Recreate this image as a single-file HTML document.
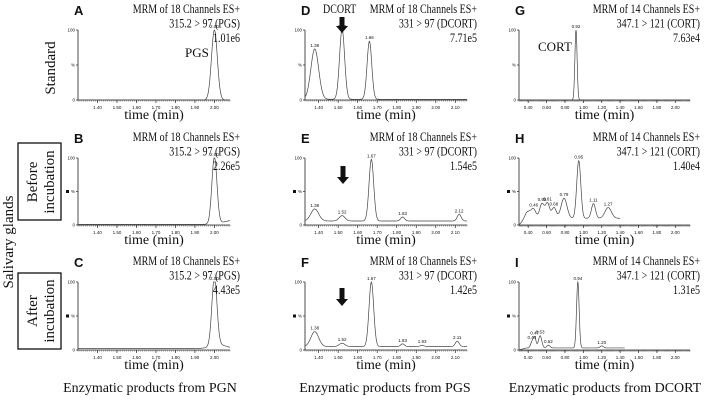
<!DOCTYPE html>
<html><head><meta charset="utf-8"><style>
html,body{margin:0;padding:0;background:#fff;width:708px;height:400px;overflow:hidden}
svg{display:block}
.ser{font-family:"Liberation Serif",serif;fill:#111}
.sans{font-family:"Liberation Sans",sans-serif;fill:#111}
</style></head><body>
<svg id="fig" width="708" height="400" viewBox="0 0 708 400">
  <g class="ser" font-size="15">
    <text transform="translate(13,242) rotate(-90)" text-anchor="middle">Salivary glands</text>
    <text transform="translate(55,68) rotate(-90)" text-anchor="middle">Standard</text>
  </g>
  <rect x="18" y="143" width="43" height="77" fill="none" stroke="#111" stroke-width="1.3"/>
  <text class="ser" font-size="15" transform="translate(40,182) rotate(-90)" text-anchor="middle"><tspan x="0" dy="-3">Before</tspan><tspan x="0" dy="17">incubation</tspan></text>
  <rect x="18" y="273" width="43" height="76" fill="none" stroke="#111" stroke-width="1.3"/>
  <text class="ser" font-size="15" transform="translate(40,311) rotate(-90)" text-anchor="middle"><tspan x="0" dy="-3">After</tspan><tspan x="0" dy="17">incubation</tspan></text>
  <g class="ser" font-size="14" text-anchor="middle">
    <text x="150" y="392">Enzymatic products from PGN</text>
    <text x="385" y="392">Enzymatic products from PGS</text>
    <text x="605" y="392">Enzymatic products from DCORT</text>
  </g>
  <g id="panels"></g>
</svg>
<script>
const colDomains = [[1.30, 2.08], [1.33, 2.16], [0.30, 2.16]];
const colTicks = [[1.40,1.50,1.60,1.70,1.80,1.90,2.00,2.10],[1.40,1.50,1.60,1.70,1.80,1.90,2.00,2.10],[0.40,0.60,0.80,1.00,1.20,1.40,1.60,1.80,2.00]];
const panelLetters = ["A","B","C","D","E","F","G","H","I"];
const channels = ["MRM of 18 Channels ES+","MRM of 18 Channels ES+","MRM of 18 Channels ES+","MRM of 18 Channels ES+","MRM of 18 Channels ES+","MRM of 18 Channels ES+","MRM of 14 Channels ES+","MRM of 14 Channels ES+","MRM of 14 Channels ES+"];
const transitions = ["315.2 > 97 (PGS)","315.2 > 97 (PGS)","315.2 > 97 (PGS)","331 > 97 (DCORT)","331 > 97 (DCORT)","331 > 97 (DCORT)","347.1 > 121 (CORT)","347.1 > 121 (CORT)","347.1 > 121 (CORT)"];
const intensities = ["1.01e6","2.26e5","4.43e5","7.71e5","1.54e5","1.42e5","7.63e4","1.40e4","1.31e5"];
const peakTimes = [[2.00],[2.00,2.10],[2.00,2.02],[1.38,1.52,1.66],[1.38,1.52,1.67,1.83,2.12],[1.38,1.52,1.67,1.83,1.93,2.11],[0.92],[0.40,0.46,0.55,0.61,0.68,0.79,0.95,1.11,1.27],[0.44,0.47,0.53,0.62,0.94,1.20]];
const peakHeights = [[100],[100,6],[100,6],[72,100,83],[18,8,92,6,10],[22,5,95,4,2,8],[100],[10,12,22,22,16,30,86,22,16],[8,16,18,4,97,3]];
const peakWidths = [[0.015],[0.013,0.05],[0.013,0.04],[0.02,0.013,0.012],[0.02,0.015,0.012,0.01,0.01],[0.02,0.015,0.012,0.01,0.01,0.01],[0.012],[0.035,0.025,0.025,0.022,0.025,0.032,0.022,0.022,0.035],[0.015,0.015,0.018,0.018,0.014,0.018]];
const peakLabelsShown = [[1],[1,0],[1,0],[1,1,1],[1,1,1,1,1],[1,1,1,1,1,1],[1],[0,1,1,1,1,1,1,1,1],[1,1,1,1,1,1]];
const baselines = [0,1,2,1,6,5,0,10,3];
const traceEnds = [null,null,null,null,null,null,null,1.40,1.45];

const rowTop = [30,158,282], rowBase = [100,225,350];
const colX0 = [78,305,519], colX1 = [230,467,690];
const NS = "http://www.w3.org/2000/svg";
const root = document.getElementById('panels');
function mk(tag, attrs, parent){const e=document.createElementNS(NS,tag);for(const k in attrs)e.setAttribute(k,attrs[k]);parent.appendChild(e);return e;}
function squeeze(t,f){try{const w=t.getComputedTextLength();t.setAttribute('textLength',(w*f).toFixed(1));t.setAttribute('lengthAdjust','spacingAndGlyphs');}catch(e){}}

for(let c=0;c<3;c++){for(let r=0;r<3;r++){
  const i=c*3+r;
  const g=mk('g',{},root);
  
  
  const [d0,d1]=colDomains[c];
  const x0=colX0[c],x1=colX1[c],yt=rowTop[r],yb=rowBase[r];
  const xs=t=>x0+(t-d0)/(d1-d0)*(x1-x0);
  const ys=v=>yb-v/100*(yb-yt);
  const ax=mk('path',{d:`M${x0},${yt} V${yb} H${x1}`,fill:'none',stroke:'#222','stroke-width':0.8},g);
  
  
  for(let t=Math.ceil(d0*100)/100;t<=d1;t+=0.01){const X=xs(t);mk('line',{x1:X,x2:X,y1:yb,y2:yb+1.5,stroke:'#444','stroke-width':0.5},g);}
  colTicks[c].forEach(t=>{const X=xs(t);if(X<x0||X>x1)return;mk('line',{x1:X,x2:X,y1:yb,y2:yb+3,stroke:'#222','stroke-width':0.7},g);
    const tl=mk('text',{x:X,y:yb+9,'font-size':4.5,'text-anchor':'middle',class:'sans'},g);tl.textContent=t.toFixed(2);
    
    });
  [[100,'100'],[50,'%'],[0,'0']].forEach(([v,s])=>{const Y=ys(v);mk('line',{x1:x0-2,x2:x0,y1:Y,y2:Y,stroke:'#222','stroke-width':0.7},g);
    const yl=mk('text',{x:x0-3,y:Y+1.5,'font-size':4.5,'text-anchor':'end',class:'sans'},g);yl.textContent=s;
    
    });
  if(r>0){mk('rect',{x:x0-12,y:ys(50)-1.5,width:3,height:3,fill:'#111'},g);}
  const end=traceEnds[i]!==null?traceEnds[i]:d1;
  let d='';
  for(let t=d0;t<=end+1e-9;t+=0.002){
    let v=baselines[i];
    if(i===7||i===8){v=baselines[i]*Math.min(1,(t-d0)/0.08);}
    peakTimes[i].forEach((p,k)=>{const s=peakWidths[i][k];v+=peakHeights[i][k]*Math.exp(-0.5*((t-p)/s)**2);});
    v=Math.min(v,100);
    d+=(d?'L':'M')+xs(t).toFixed(2)+','+ys(v).toFixed(2);
  }
  const tr=mk('path',{d:d,fill:'none',stroke:'#444','stroke-width':0.7},g);
  
  
  peakTimes[i].forEach((p,k)=>{if(!peakLabelsShown[i][k])return;
    let h=baselines[i];peakTimes[i].forEach((q,j)=>{h+=peakHeights[i][j]*Math.exp(-0.5*((p-q)/peakWidths[i][j])**2);});h=Math.min(h,100);
    const pl=mk('text',{x:xs(p),y:ys(h)-2,'font-size':4.5,'text-anchor':'middle',class:'sans'},g);pl.textContent=p.toFixed(2);
    
    });
  const L=mk('text',{x:x0-4,y:yt-15,'font-size':13,'font-weight':'bold',class:'sans'},g);L.textContent=panelLetters[i];
  
  
  [channels[i],transitions[i],intensities[i]].forEach((s,k)=>{const h=mk('text',{x:x1+10,y:yt-17+k*14.5,'font-size':12.5,'text-anchor':'end',class:'ser'},g);h.textContent=s;
    
    
    squeeze(h,0.8);});
  const tl=mk('text',{x:(x0+x1)/2,y:yb+19,'font-size':14,'text-anchor':'middle',class:'ser'},g);tl.textContent='time (min)';
  
  
}}
const svg=document.getElementById('fig');
function annot(name,txt,x,y,size){const t=mk('text',{x:x,y:y,'font-size':size,class:'ser'},svg);t.textContent=txt;
  
  return t;}
annot('pgs-peak-label','PGS',185,57,13);
squeeze(annot('dcort-label','DCORT',323,13,12.5),0.8);
annot('cort-peak-label','CORT',538,51,13);
function arrow(x,yTop,yBot,name){const p=mk('path',{d:`M${x-2.5},${yTop} H${x+2.5} V${yBot-7} H${x+6} L${x},${yBot} L${x-6},${yBot-7} H${x-2.5} Z`,fill:'#111'},svg);
  
  }
arrow(342,17,33,'dcort-arrow-d');
arrow(343,166,184,'dcort-arrow-e');
arrow(342,288,306,'dcort-arrow-f');
</script>
</body></html>
